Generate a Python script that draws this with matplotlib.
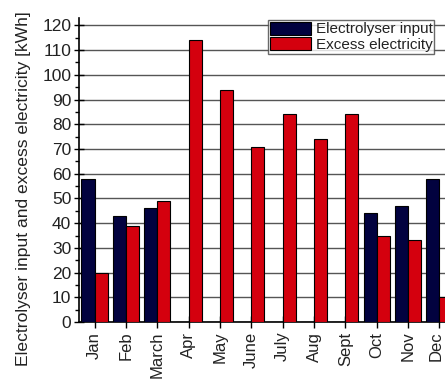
import matplotlib
matplotlib.use("Agg")
import matplotlib.pyplot as plt
import matplotlib.transforms as mtransforms
import numpy as np
from matplotlib.ticker import MultipleLocator

months = ["Jan", "Feb", "March", "Apr", "May", "June", "July", "Aug", "Sept", "Oct", "Nov", "Dec"]
electrolyser_input = [58, 43, 46, 0, 0, 0, 0, 0, 0, 44, 47, 58]
excess_electricity = [20, 39, 49, 114, 94, 71, 84, 74, 84, 35, 33, 10]

plt.rcParams["font.family"] = ["Liberation Sans", "DejaVu Sans"]

fig = plt.figure(figsize=(4.45, 3.82), dpi=100)
ax = fig.add_axes([0.1775, 0.157, 0.845, 0.796])

x = np.arange(1, len(months) + 1)
w = 0.42
navy = "#02023f"
red = "#d4000e"
ax.bar(x - w / 2, electrolyser_input, w, color=navy, edgecolor="black", linewidth=0.8,
       label="Electrolyser input", zorder=3)
ax.bar(x + w / 2, excess_electricity, w, color=red, edgecolor="black", linewidth=0.8,
       label="Excess electricity", zorder=3)

ax.set_xlim(0.5, 12.5)
ax.set_ylim(0, 123)
ax.yaxis.set_major_locator(MultipleLocator(10))
ax.yaxis.set_minor_locator(MultipleLocator(5))
ax.grid(axis="y", color="#555555", linewidth=1.0, zorder=0)

for s in ["top", "right"]:
    ax.spines[s].set_visible(False)
ax.spines["left"].set_linewidth(1.2)
ax.spines["bottom"].set_linewidth(1.2)

ax.set_xticks(x)
ax.set_xticklabels(months, rotation=90, fontsize=12)
ax.tick_params(axis="y", which="major", direction="inout", length=7, width=1,
               labelsize=12.5, pad=2, labelcolor="#222222")
ax.tick_params(axis="y", which="minor", direction="out", length=3, width=1)
ax.tick_params(axis="x", direction="inout", length=8, width=1, pad=3, labelcolor="#222222")

# keep the last month label inside the figure edge
last = ax.get_xticklabels()[-1]
last.set_transform(last.get_transform() +
                   mtransforms.ScaledTranslation(-3 / 100, 0, fig.dpi_scale_trans))

ax.set_ylabel("Electrolyser input and excess electricity [kWh]", fontsize=12.6,
              color="#222222")
ax.yaxis.set_label_coords(-0.128, 0.44)

leg = fig.legend(loc="upper left", bbox_to_anchor=(268 / 445, 1 - 20 / 382),
                 frameon=True, fancybox=False, fontsize=11, handlelength=2.7,
                 handleheight=0.9, borderpad=0.12, labelspacing=0.05, handletextpad=0.3,
                 borderaxespad=0)
leg.get_frame().set_edgecolor("#444444")
leg.get_frame().set_linewidth(1.0)
for t in leg.get_texts():
    t.set_color("#222222")

fig.savefig("out.png", dpi=100)
